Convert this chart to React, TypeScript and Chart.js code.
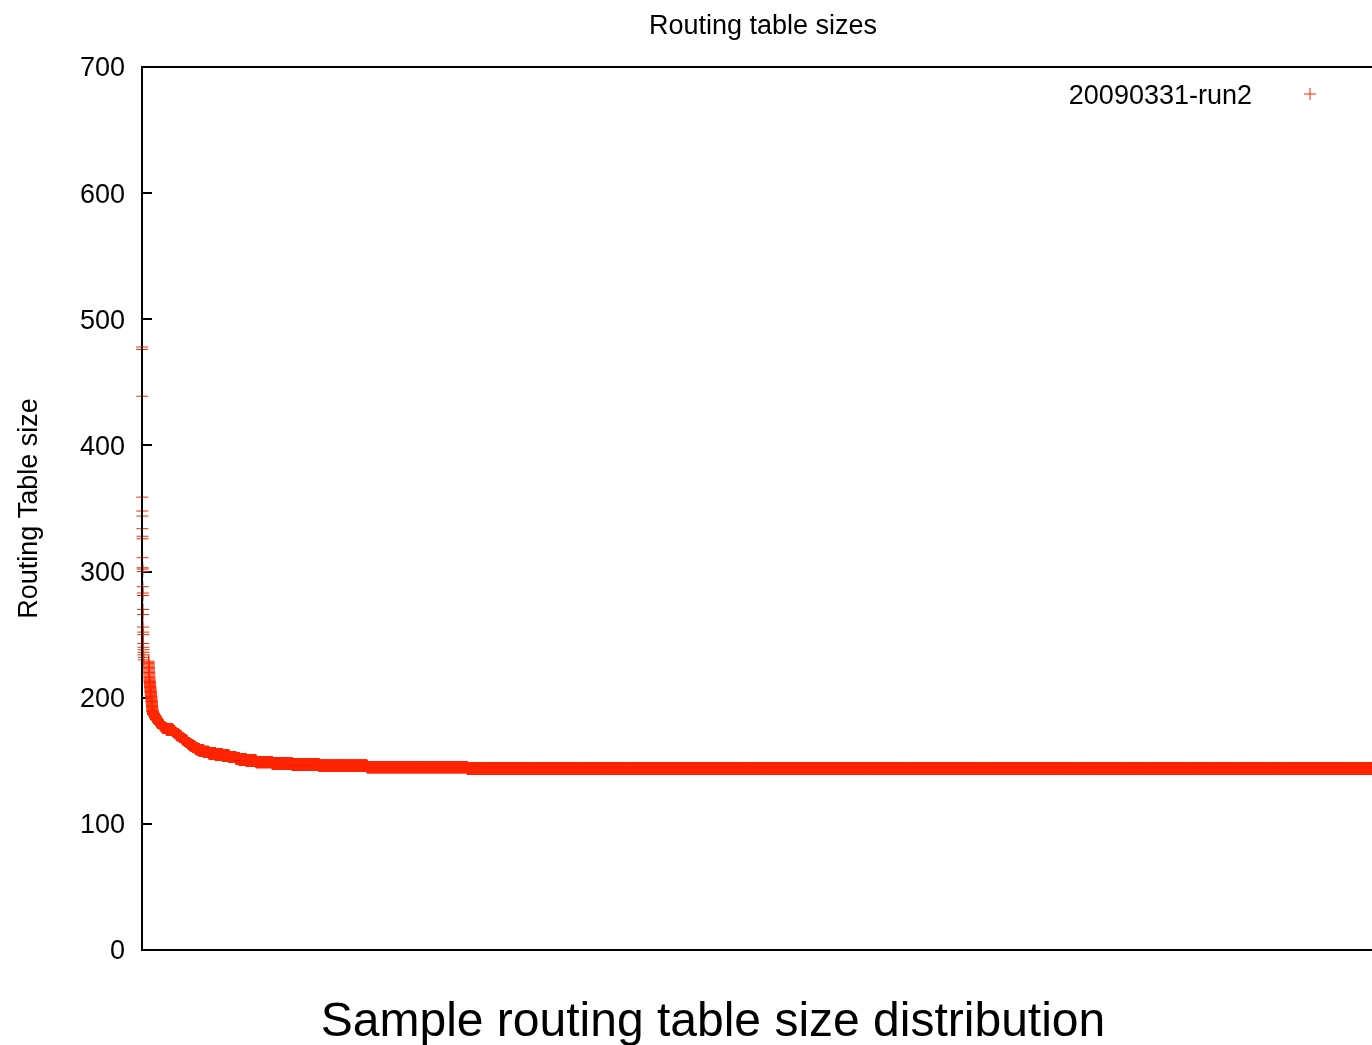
import React, { useEffect, useRef } from 'react';
import { Chart, registerables } from 'chart.js';

Chart.register(...registerables);

const chartTitle = 'Routing table sizes';
const xCaption = 'Sample routing table size distribution';
const yAxisTitle = 'Routing Table size';
const seriesLabel = '20090331-run2';
const seriesColor = 'rgb(255, 40, 0)';

const yMin = 0;
const yMax = 700;
const yStep = 100;

// total number of samples (x axis = sample rank, sorted by size)
const totalSamples = 20000;

// the few largest tables, one sample each (ranks 0..n-1)
const outlierSizes = [
  478, 476, 439, 359, 348, 344, 334, 328, 326, 311, 303, 302, 300, 288, 283, 281,
  270, 266, 256, 252, 250, 243, 240, 238, 236, 234, 232, 230,
];

// rank where the main body of the distribution starts
const bulkStartRank = 105;

// routing table size -> number of samples with that size (descending order)
const bulkSizes = [
  229, 228, 227, 226, 225, 224, 223, 222, 221, 220, 219, 218, 217, 216, 215,
  214, 213, 212, 211, 210, 209, 208, 207, 206, 205, 204, 203, 202, 201, 200,
  199, 198, 197, 196, 195, 194, 193, 192, 191, 190,
  189, 188, 187, 186, 185, 184, 183, 182, 181, 180, 179, 178, 177, 176, 175,
  174, 173, 172, 171, 170, 169, 168, 167, 166, 165, 164, 163, 162, 161, 160,
  159, 158, 157, 156, 155, 154, 153, 152, 151, 150, 149, 148, 147, 146, 145, 144,
];
const bulkCounts = [
  1, 1, 1, 1, 1, 1, 1, 1, 1, 1, 1, 1, 1, 1, 1,
  2, 2, 2, 2, 2, 2, 2, 2, 2, 2, 2, 2, 2, 2, 2,
  2, 2, 2, 2, 2, 2, 2, 2, 2, 2,
  5, 6, 12, 12, 12, 11, 14, 16, 16, 16, 16, 17, 16, 50, 98,
  21, 21, 23, 29, 26, 29, 23, 26, 26, 24, 24, 29, 31, 35, 34,
  35, 71, 82, 103, 114, 109, 108, 53, 113, 161, 258, 322, 435, 773, 1610, 14765,
];

const FONT = "'Liberation Sans', Arial, Helvetica, sans-serif";

const keyPlugin = {
  id: 'gnuplotKey',
  afterDatasetsDraw(chart: any) {
    const { ctx, chartArea } = chart;
    const ds = chart.data.datasets[0];
    const y = chartArea.top + 27;
    ctx.save();
    ctx.font = `27px ${FONT}`;
    ctx.fillStyle = '#000';
    ctx.textAlign = 'right';
    ctx.textBaseline = 'middle';
    ctx.fillText(ds.label, chartArea.right - 132, y + 3);
    const cx = chartArea.right - 74;
    ctx.strokeStyle = ds.borderColor;
    ctx.lineWidth = 1;
    ctx.beginPath();
    ctx.moveTo(cx - 6, y);
    ctx.lineTo(cx + 6, y);
    ctx.moveTo(cx, y - 6);
    ctx.lineTo(cx, y + 6);
    ctx.stroke();
    ctx.restore();
  },
};

export default function App() {
  const canvasRef = useRef<HTMLCanvasElement | null>(null);

  useEffect(() => {
    if (!canvasRef.current) return;
    Chart.defaults.font.family = FONT;
    Chart.defaults.color = '#000';

    const points: { x: number; y: number }[] = [];
    outlierSizes.forEach((s, i) => points.push({ x: i, y: s }));
    let rank = bulkStartRank;
    bulkSizes.forEach((s, i) => {
      for (let k = 0; k < bulkCounts[i]; k++) points.push({ x: rank++, y: s });
    });

    const chart = new Chart(canvasRef.current, {
      type: 'scatter',
      data: {
        datasets: [
          {
            label: seriesLabel,
            data: points,
            showLine: false,
            pointStyle: 'cross',
            pointRadius: 6,
            pointHoverRadius: 6,
            pointBorderWidth: 1,
            borderColor: seriesColor,
            backgroundColor: seriesColor,
            clip: false,
            parsing: false,
            normalized: true,
          } as any,
        ],
      },
      options: {
        animation: false,
        responsive: false,
        events: [],
        layout: { padding: { left: 0, right: 0, top: 0, bottom: 0 } },
        plugins: {
          legend: { display: false },
          tooltip: { enabled: false },
          title: {
            display: true,
            text: chartTitle,
            fullSize: false,
            color: '#000',
            font: { size: 27, weight: 'normal', family: FONT },
            padding: { top: 10, bottom: 24.6 },
          },
          subtitle: {
            display: true,
            position: 'bottom',
            text: xCaption,
            color: '#000',
            font: { size: 48, weight: 'normal', family: FONT, lineHeight: 0.9 },
            padding: { top: 51.4, bottom: 0.4 },
          },
        },
        scales: {
          x: {
            type: 'linear',
            position: 'bottom',
            min: 0,
            max: totalSamples,
            ticks: { display: false },
            grid: { display: false, drawTicks: false },
            border: { display: true, color: '#000', width: 2 },
          },
          xTop: {
            type: 'linear',
            position: 'top',
            min: 0,
            max: totalSamples,
            ticks: { display: false },
            grid: { display: false, drawTicks: false },
            border: { display: true, color: '#000', width: 2 },
          },
          y: {
            type: 'linear',
            min: yMin,
            max: yMax,
            ticks: {
              stepSize: yStep,
              color: '#000',
              font: { size: 27, family: FONT },
              padding: 27,
              labelOffset: 2,
            },
            grid: {
              display: true,
              drawOnChartArea: false,
              drawTicks: true,
              tickLength: -10,
              color: '#000',
              lineWidth: 2,
            },
            border: { display: true, color: '#000', width: 2, z: 1 },
            title: {
              display: true,
              text: yAxisTitle,
              color: '#000',
              font: { size: 27, family: FONT },
              padding: { top: 13.8, bottom: 6.8 },
            },
          },
          yRight: {
            type: 'linear',
            position: 'right',
            min: yMin,
            max: yMax,
            ticks: { display: false },
            grid: { display: false, drawTicks: false },
            border: { display: false },
            afterFit: (scale: any) => {
              scale.width = 42;
            },
          },
        },
      } as any,
      plugins: [keyPlugin],
    });

    return () => chart.destroy();
  }, []);

  return (
    <div style={{ position: 'fixed', left: 0, top: 0, width: 1426, height: 1045, background: '#fff' }}>
      <canvas ref={canvasRef} width={1426} height={1045} style={{ display: 'block' }} />
    </div>
  );
}
